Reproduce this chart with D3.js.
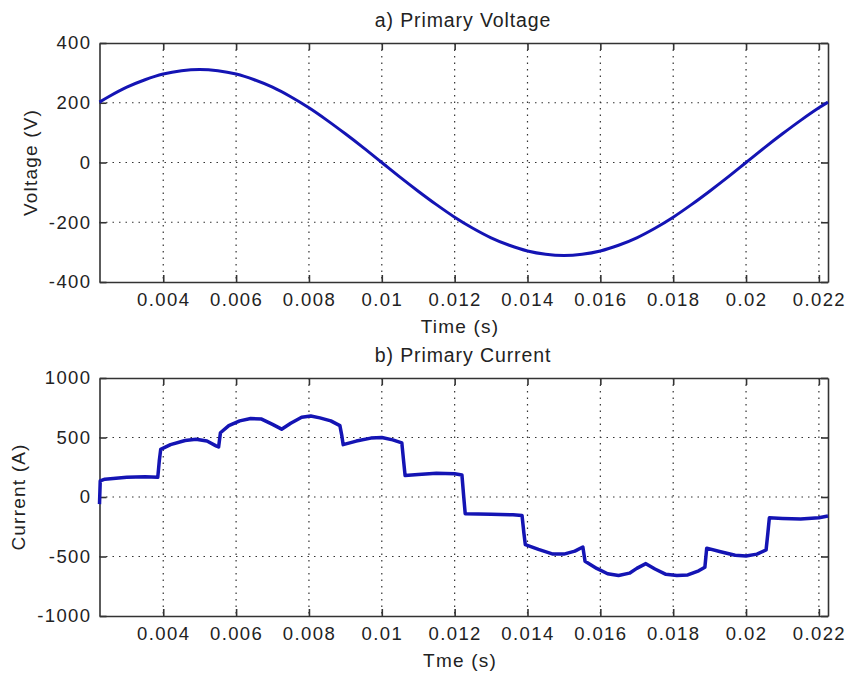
<!DOCTYPE html>
<html>
<head>
<meta charset="utf-8">
<script src="https://d3js.org/d3.v7.min.js"></script>
<style>
  body { margin: 0; background: #fff; }
  svg text { font-family: "Liberation Sans", Arial, Helvetica, sans-serif; fill: #222; }
  .tick text { font-size: 18.5px; letter-spacing: 1.4px; }
  .lbl { font-size: 19px; letter-spacing: 1.2px; }
  .ttl { font-size: 19.5px; letter-spacing: 0.9px; }
</style>
</head>
<body>
<div id="chart"></div>
<script>
// tempo (s) e tensao primaria (V)
var tempoV = [0.00225, 0.0025, 0.003, 0.0035, 0.004, 0.0045, 0.005, 0.0055, 0.006, 0.0065,
  0.007, 0.0075, 0.008, 0.0085, 0.009, 0.0095, 0.010, 0.0105, 0.011, 0.0115,
  0.012, 0.0125, 0.013, 0.0135, 0.014, 0.0145, 0.015, 0.0155, 0.016, 0.0165,
  0.017, 0.0175, 0.018, 0.0185, 0.019, 0.0195, 0.020, 0.0205, 0.021, 0.0215,
  0.022, 0.02225];
var tensao = [202, 220, 252, 277, 296, 307, 311, 307, 296, 277,
  252, 220, 183, 141, 96, 49, 0, -49, -96, -141,
  -183, -220, -252, -277, -296, -307, -311, -307, -296, -277,
  -252, -220, -183, -141, -96, -49, 0, 49, 96, 141,
  183, 202];

// tempo (s) e corrente primaria (A)
var tempoI = [0.00225, 0.00227, 0.0024, 0.003, 0.0035, 0.00385, 0.00389, 0.00393, 0.0042, 0.0046,
  0.0049, 0.0052, 0.00545, 0.00552, 0.00557, 0.0058, 0.0061, 0.0064, 0.0067, 0.007,
  0.00725, 0.0075, 0.0078, 0.00805, 0.0083, 0.0086, 0.00885, 0.0089, 0.00894, 0.0093,
  0.0097, 0.010, 0.0103, 0.01055, 0.0106, 0.01064, 0.011, 0.0115, 0.012, 0.0122,
  0.01225, 0.01229, 0.013, 0.0136, 0.01385, 0.0139, 0.01394, 0.0143, 0.0147, 0.015,
  0.0153, 0.01552, 0.01558, 0.0159, 0.0162, 0.0165, 0.0168, 0.017, 0.01725, 0.0175,
  0.0178, 0.0181, 0.0184, 0.0187, 0.01887, 0.01892, 0.0193, 0.0197, 0.020, 0.0203,
  0.02055, 0.0206, 0.02064, 0.021, 0.0215, 0.022, 0.02225];
var corrente = [-60, 135, 150, 165, 170, 165, 300, 400, 440, 475,
  485, 470, 430, 420, 540, 600, 640, 660, 655, 610,
  570, 620, 670, 680, 665, 640, 600, 520, 440, 470,
  495, 500, 480, 455, 300, 180, 190, 200, 195, 185,
  0, -140, -145, -150, -155, -300, -400, -440, -480, -480,
  -455, -420, -540, -600, -645, -660, -640, -600, -560, -605,
  -650, -660, -655, -620, -590, -430, -460, -490, -495, -480,
  -445, -300, -175, -180, -185, -175, -160];

var ticksX = [0.004, 0.006, 0.008, 0.01, 0.012, 0.014, 0.016, 0.018, 0.02, 0.022];
var ticksV = [-400, -200, 0, 200, 400];
var ticksI = [-1000, -500, 0, 500, 1000];

var largura = 848, altura = 677;
var svg = d3.select('#chart').append('svg')
  .attr('width', largura).attr('height', altura);

function painel(cfg) {
  var x = d3.scaleLinear().domain([0.00225, 0.02225]).range([99.5, 828]);
  var y = d3.scaleLinear().domain(cfg.dominio).range([cfg.baixo, cfg.topo]);
  var g = svg.append('g');

  // grade pontilhada
  g.selectAll('.gx').data(ticksX).enter().append('line')
    .attr('x1', d => x(d)).attr('x2', d => x(d))
    .attr('y1', cfg.topo).attr('y2', cfg.baixo)
    .attr('stroke', '#333').attr('stroke-width', 1.2).attr('stroke-dasharray', '1.5,5');
  g.selectAll('.gy').data(cfg.ticksY.slice(1, -1)).enter().append('line')
    .attr('x1', 99.5).attr('x2', 828)
    .attr('y1', d => y(d)).attr('y2', d => y(d))
    .attr('stroke', '#333').attr('stroke-width', 1.2).attr('stroke-dasharray', '1.5,5');

  // eixos (ticks para dentro, nos quatro lados)
  var fmtX = d3.format('~g');
  var fmtY = d => String(d);   // hifen simples, sem separador de milhar
  g.append('g').attr('transform', 'translate(0,' + cfg.baixo + ')')
    .call(d3.axisBottom(x).tickValues(ticksX).tickFormat(fmtX).tickSizeInner(-7).tickSizeOuter(0).tickPadding(11));
  g.append('g').attr('transform', 'translate(0,' + cfg.topo + ')')
    .call(d3.axisTop(x).tickValues(ticksX).tickFormat('').tickSizeInner(-7).tickSizeOuter(0));
  g.append('g').attr('transform', 'translate(99.5,0)')
    .call(d3.axisLeft(y).tickValues(cfg.ticksY).tickFormat(fmtY).tickSizeInner(-7).tickSizeOuter(0).tickPadding(8));
  g.append('g').attr('transform', 'translate(828,0)')
    .call(d3.axisRight(y).tickValues(cfg.ticksY).tickFormat('').tickSizeInner(-7).tickSizeOuter(0));
  g.selectAll('.domain, .tick line').attr('stroke', '#333').attr('stroke-width', 1.6);

  // curva
  var pts = cfg.t.map((t, i) => [t, cfg.v[i]]);
  g.append('path').datum(pts)
    .attr('fill', 'none').attr('stroke', '#1414b4').attr('stroke-width', cfg.espessura)
    .attr('stroke-linejoin', 'round')
    .attr('d', d3.line().x(d => x(d[0])).y(d => y(d[1])).curve(cfg.curva));

  // textos
  g.append('text').attr('class', 'ttl').attr('x', 463).attr('y', cfg.topo - 16)
    .attr('text-anchor', 'middle').text(cfg.titulo);
  g.append('text').attr('class', 'lbl').attr('x', 460).attr('y', cfg.baixo + 51)
    .attr('text-anchor', 'middle').text(cfg.rotuloX);
  g.append('text').attr('class', 'lbl')
    .attr('transform', 'translate(' + cfg.xRotuloY + ',' + ((cfg.topo + cfg.baixo) / 2) + ') rotate(-90)')
    .attr('text-anchor', 'middle').text(cfg.rotuloY);
}

painel({ topo: 43, baixo: 282, dominio: [-400, 400], ticksY: ticksV, t: tempoV, v: tensao,
  curva: d3.curveCatmullRom, espessura: 3, titulo: 'a) Primary Voltage',
  rotuloX: 'Time (s)', rotuloY: 'Voltage (V)', xRotuloY: 37 });
painel({ topo: 378, baixo: 616, dominio: [-1000, 1000], ticksY: ticksI, t: tempoI, v: corrente,
  curva: d3.curveLinear, espessura: 3.5, titulo: 'b) Primary Current',
  rotuloX: 'Tme (s)', rotuloY: 'Current (A)', xRotuloY: 25 });
</script>
</body>
</html>
